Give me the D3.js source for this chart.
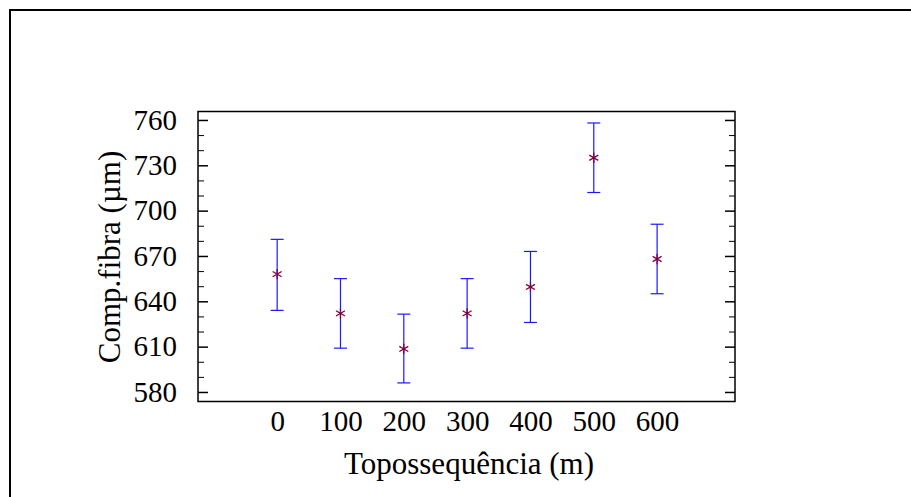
<!DOCTYPE html>
<html>
<head>
<meta charset="utf-8">
<script src="https://cdn.jsdelivr.net/npm/d3@7"></script>
<style>
body { margin: 0; background: #fff; }
text { font-family: "Liberation Serif", "Times New Roman", serif; }
</style>
</head>
<body>
<svg id="svg"></svg>
<script>
var width = 911, height = 497;

// data
var categories = [0, 100, 200, 300, 400, 500, 600];
var means = [658, 632, 608.5, 632, 649.5, 735, 668];
var lower = [634, 609, 586, 609, 626, 712, 645];
var upper = [681, 655, 631.5, 655, 673, 758, 691];
var yTicks = [580, 610, 640, 670, 700, 730, 760];
var xTicks = [0, 100, 200, 300, 400, 500, 600];

var svg = d3.select("#svg")
	.attr("width", width)
	.attr("height", height);

// outer frame (runs off the right and bottom edges)
svg.append("path")
	.attr("d", "M10," + (height + 5) + "V10H" + (width + 5))
	.attr("fill", "none")
	.attr("stroke", "#000")
	.attr("stroke-width", 2);

var pLeft = 198, pRight = 735, pTop = 111.5, pBottom = 401.5;

var x = d3.scaleLinear()
	.domain([-125, 723])
	.range([pLeft, pRight]);

var y = d3.scaleLinear()
	.domain([573.7, 765.6])
	.range([pBottom, pTop]);

// plot box
svg.append("rect")
	.attr("x", pLeft)
	.attr("y", pTop)
	.attr("width", pRight - pLeft)
	.attr("height", pBottom - pTop)
	.attr("fill", "none")
	.attr("stroke", "#000")
	.attr("stroke-width", 1.5);

// major + minor ticks on left and right
var minor = d3.range(580, 761, 10).filter(function(v) { return yTicks.indexOf(v) < 0; });

var yAxis = d3.axisLeft(y).tickValues(yTicks).tickSize(-10).tickPadding(21);
var gy = svg.append("g")
	.attr("transform", "translate(" + pLeft + ",0)")
	.call(yAxis);
gy.select(".domain").remove();
gy.selectAll("line").attr("stroke-width", 1.5);
gy.selectAll("text")
	.style("font-size", "29px")
	.attr("fill", "#000");

var gyMinor = svg.append("g")
	.attr("transform", "translate(" + pLeft + ",0)")
	.call(d3.axisLeft(y).tickValues(minor).tickSize(-6).tickFormat(""));
gyMinor.select(".domain").remove();

var gyR = svg.append("g")
	.attr("transform", "translate(" + pRight + ",0)")
	.call(d3.axisRight(y).tickValues(yTicks).tickSize(-10).tickFormat(""));
gyR.select(".domain").remove();
gyR.selectAll("line").attr("stroke-width", 1.5);

var gyRMinor = svg.append("g")
	.attr("transform", "translate(" + pRight + ",0)")
	.call(d3.axisRight(y).tickValues(minor).tickSize(-6).tickFormat(""));
gyRMinor.select(".domain").remove();

// x labels, no tick marks
var xAxis = d3.axisBottom(x).tickValues(xTicks).tickSize(0).tickPadding(9);
var gx = svg.append("g")
	.attr("transform", "translate(0," + pBottom + ")")
	.call(xAxis);
gx.select(".domain").remove();
gx.selectAll("text")
	.style("font-size", "29px")
	.attr("fill", "#000");

// axis titles
svg.append("text")
	.attr("x", 469)
	.attr("y", 474)
	.attr("text-anchor", "middle")
	.style("font-size", "31px")
	.text("Topossequência (m)");

svg.append("text")
	.attr("transform", "translate(120,257) rotate(-90)")
	.attr("text-anchor", "middle")
	.style("font-size", "31px")
	.text("Comp.fibra (µm)");

// error bars
var bars = svg.selectAll(".err")
	.data(categories)
	.enter()
	.append("g")
	.attr("class", "err")
	.attr("stroke", "#1a1aff")
	.attr("stroke-width", 1.2);

bars.append("line")
	.attr("x1", function(d) { return x(d); })
	.attr("x2", function(d) { return x(d); })
	.attr("y1", function(d, i) { return y(upper[i]); })
	.attr("y2", function(d, i) { return y(lower[i]); });

bars.append("line")
	.attr("x1", function(d) { return x(d) - 6.5; })
	.attr("x2", function(d) { return x(d) + 6.5; })
	.attr("y1", function(d, i) { return y(upper[i]); })
	.attr("y2", function(d, i) { return y(upper[i]); });

bars.append("line")
	.attr("x1", function(d) { return x(d) - 6.5; })
	.attr("x2", function(d) { return x(d) + 6.5; })
	.attr("y1", function(d, i) { return y(lower[i]); })
	.attr("y2", function(d, i) { return y(lower[i]); });

// asterisk markers
var star = d3.symbol().type(d3.symbolAsterisk).size(75);
svg.selectAll(".pt")
	.data(categories)
	.enter()
	.append("path")
	.attr("class", "pt")
	.attr("d", star)
	.attr("transform", function(d, i) { return "translate(" + x(d) + "," + y(means[i]) + ")"; })
	.attr("fill", "none")
	.attr("stroke", "#800040")
	.attr("stroke-width", 1.3);
</script>
</body>
</html>
